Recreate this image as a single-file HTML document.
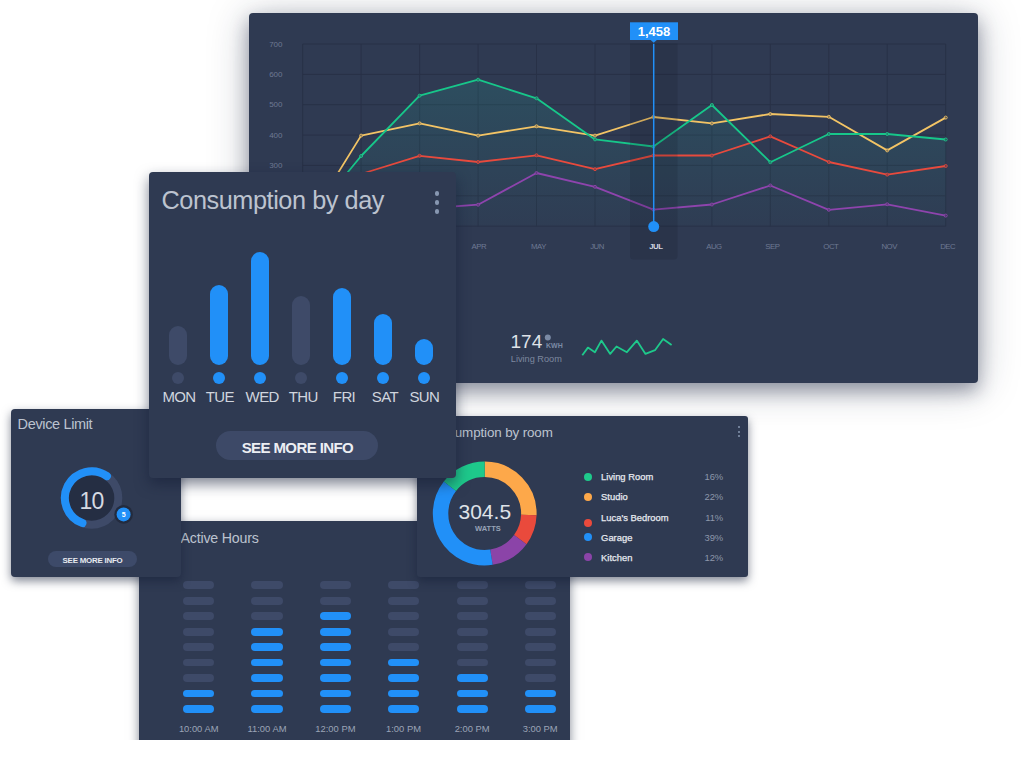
<!DOCTYPE html>
<html><head><meta charset="utf-8"><title>Dashboard</title>
<style>
*{margin:0;padding:0;box-sizing:border-box}
html,body{width:1024px;height:772px;overflow:hidden;background:#fff}
body{position:relative;font-family:"Liberation Sans",Arial,sans-serif;color:#d9dde5}
.card{position:absolute;background:#2f3a52;border-radius:4px;overflow:hidden}
.sh{box-shadow:0 4px 10px rgba(20,30,55,.53)}
#A{left:249px;top:13px;width:729px;height:370px;z-index:1;box-shadow:0 8px 18px rgba(25,35,62,.38),0 4px 42px rgba(25,35,62,.28)}
#Ew{position:absolute;left:0;top:0;width:1024px;height:740.4px;overflow:hidden;z-index:2}
#E{left:139px;top:521px;width:430.5px;height:260px;border-radius:0;box-shadow:0 4px 10px rgba(20,30,55,.53)}
#D{left:416.5px;top:416px;width:331.5px;height:160.5px;z-index:3;border-radius:3px}
#C{left:11px;top:408.5px;width:170px;height:168px;z-index:4}
#B{left:149px;top:172.2px;width:306.7px;height:305.9px;z-index:5;box-shadow:0 6px 14px rgba(20,30,55,.55)!important}
.abs{position:absolute;white-space:nowrap}
svg{position:absolute;left:0;top:0;overflow:visible}
</style></head>
<body>

<!-- Big chart card -->
<div class="card" id="A">
<svg width="729" height="370" viewBox="249 13 729 370">
  <defs>
    <linearGradient id="gf" x1="0" y1="0" x2="0" y2="1">
      <stop offset="0" stop-color="#22b5a2" stop-opacity=".16"/>
      <stop offset="1" stop-color="#22b5a2" stop-opacity=".02"/>
    </linearGradient>
  </defs>
  <!-- grid -->
  <g stroke="#283147" stroke-width="1" fill="none">
    <path d="M302.7 44H945.7M302.7 74.4H945.7M302.7 104.7H945.7M302.7 135.1H945.7M302.7 165.4H945.7M302.7 195.8H945.7M302.7 226.1H945.7"/>
    <path d="M302.7 44V226.1M361.1 44V226.1M419.6 44V226.1M478.1 44V226.1M536.5 44V226.1M595 44V226.1M653.4 44V226.1M711.9 44V226.1M770.3 44V226.1M828.8 44V226.1M887.2 44V226.1M945.7 44V226.1"/>
  </g>
  <!-- green fill -->
  <polygon fill="url(#gf)" points="302.7,227 361.1,156.0 419.6,95.7 478.1,79.7 536.5,98.3 595.0,139.4 653.4,146.5 711.9,105.0 770.3,162.2 828.8,134.0 887.2,134.0 945.7,139.5 945.7,226.1 302.7,226.1"/>
  <g fill="none" stroke-width="1.8" stroke-linejoin="round">
    <polyline stroke="#8e44ad" points="302.7,212.0 361.1,210.0 419.6,209.0 478.1,204.7 536.5,173.0 595.0,186.8 653.4,209.6 711.9,204.5 770.3,185.5 828.8,209.8 887.2,204.3 945.7,215.6"/>
    <polyline stroke="#e84a3d" points="302.7,190.0 361.1,174.0 419.6,155.8 478.1,162.0 536.5,155.3 595.0,169.2 653.4,155.5 711.9,155.5 770.3,136.4 828.8,162.0 887.2,174.6 945.7,166.0"/>
    <polyline stroke="#f3c465" points="302.7,230.0 361.1,135.6 419.6,123.4 478.1,135.6 536.5,126.3 595.0,135.6 653.4,117.0 711.9,123.4 770.3,114.0 828.8,116.8 887.2,150.4 945.7,117.6"/>
    <polyline stroke="#17c78a" points="302.7,227.0 361.1,156.0 419.6,95.7 478.1,79.7 536.5,98.3 595.0,139.4 653.4,146.5 711.9,105.0 770.3,162.2 828.8,134.0 887.2,134.0 945.7,139.5"/>
  </g>
<g stroke-width="0.9" fill="#2f3a52" fill-opacity=".5">
<circle cx="302.7" cy="212.0" r="1.5" stroke="#8e44ad"/>
<circle cx="361.1" cy="210.0" r="1.5" stroke="#8e44ad"/>
<circle cx="419.6" cy="209.0" r="1.5" stroke="#8e44ad"/>
<circle cx="478.1" cy="204.7" r="1.5" stroke="#8e44ad"/>
<circle cx="536.5" cy="173.0" r="1.5" stroke="#8e44ad"/>
<circle cx="595.0" cy="186.8" r="1.5" stroke="#8e44ad"/>
<circle cx="653.4" cy="209.6" r="1.5" stroke="#8e44ad"/>
<circle cx="711.9" cy="204.5" r="1.5" stroke="#8e44ad"/>
<circle cx="770.3" cy="185.5" r="1.5" stroke="#8e44ad"/>
<circle cx="828.8" cy="209.8" r="1.5" stroke="#8e44ad"/>
<circle cx="887.2" cy="204.3" r="1.5" stroke="#8e44ad"/>
<circle cx="945.7" cy="215.6" r="1.5" stroke="#8e44ad"/>
<circle cx="302.7" cy="190.0" r="1.5" stroke="#e84a3d"/>
<circle cx="361.1" cy="174.0" r="1.5" stroke="#e84a3d"/>
<circle cx="419.6" cy="155.8" r="1.5" stroke="#e84a3d"/>
<circle cx="478.1" cy="162.0" r="1.5" stroke="#e84a3d"/>
<circle cx="536.5" cy="155.3" r="1.5" stroke="#e84a3d"/>
<circle cx="595.0" cy="169.2" r="1.5" stroke="#e84a3d"/>
<circle cx="653.4" cy="155.5" r="1.5" stroke="#e84a3d"/>
<circle cx="711.9" cy="155.5" r="1.5" stroke="#e84a3d"/>
<circle cx="770.3" cy="136.4" r="1.5" stroke="#e84a3d"/>
<circle cx="828.8" cy="162.0" r="1.5" stroke="#e84a3d"/>
<circle cx="887.2" cy="174.6" r="1.5" stroke="#e84a3d"/>
<circle cx="945.7" cy="166.0" r="1.5" stroke="#e84a3d"/>
<circle cx="302.7" cy="230.0" r="1.5" stroke="#f3c465"/>
<circle cx="361.1" cy="135.6" r="1.5" stroke="#f3c465"/>
<circle cx="419.6" cy="123.4" r="1.5" stroke="#f3c465"/>
<circle cx="478.1" cy="135.6" r="1.5" stroke="#f3c465"/>
<circle cx="536.5" cy="126.3" r="1.5" stroke="#f3c465"/>
<circle cx="595.0" cy="135.6" r="1.5" stroke="#f3c465"/>
<circle cx="653.4" cy="117.0" r="1.5" stroke="#f3c465"/>
<circle cx="711.9" cy="123.4" r="1.5" stroke="#f3c465"/>
<circle cx="770.3" cy="114.0" r="1.5" stroke="#f3c465"/>
<circle cx="828.8" cy="116.8" r="1.5" stroke="#f3c465"/>
<circle cx="887.2" cy="150.4" r="1.5" stroke="#f3c465"/>
<circle cx="945.7" cy="117.6" r="1.5" stroke="#f3c465"/>
<circle cx="302.7" cy="227.0" r="1.5" stroke="#1ec98b"/>
<circle cx="361.1" cy="156.0" r="1.5" stroke="#1ec98b"/>
<circle cx="419.6" cy="95.7" r="1.5" stroke="#1ec98b"/>
<circle cx="478.1" cy="79.7" r="1.5" stroke="#1ec98b"/>
<circle cx="536.5" cy="98.3" r="1.5" stroke="#1ec98b"/>
<circle cx="595.0" cy="139.4" r="1.5" stroke="#1ec98b"/>
<circle cx="653.4" cy="146.5" r="1.5" stroke="#1ec98b"/>
<circle cx="711.9" cy="105.0" r="1.5" stroke="#1ec98b"/>
<circle cx="770.3" cy="162.2" r="1.5" stroke="#1ec98b"/>
<circle cx="828.8" cy="134.0" r="1.5" stroke="#1ec98b"/>
<circle cx="887.2" cy="134.0" r="1.5" stroke="#1ec98b"/>
<circle cx="945.7" cy="139.5" r="1.5" stroke="#1ec98b"/>
</g>
  <!-- JUL highlight -->
  <path d="M630 43.5 H677.5 V256 a3.5 3.5 0 0 1 -3.5 3.5 H633.5 a3.5 3.5 0 0 1 -3.5 -3.5 Z" fill="#0f1423" fill-opacity=".15"/>
  <!-- y labels -->
  <g font-size="8" fill="#6e7993" text-anchor="end" font-family="Liberation Sans, sans-serif">
    <text x="282.5" y="46.5">700</text>
    <text x="282.5" y="77">600</text>
    <text x="282.5" y="107.3">500</text>
    <text x="282.5" y="137.5">400</text>
    <text x="282.5" y="167.8">300</text>
    <text x="282.5" y="198.2">200</text>
    <text x="282.5" y="228.5">100</text>
  </g>
  <!-- month labels -->
  <g font-size="7.8" letter-spacing="-0.5" fill="#6e7993" text-anchor="middle" font-family="Liberation Sans, sans-serif">
    <text x="304.7" y="249">JAN</text>
    <text x="363.1" y="249">FEB</text>
    <text x="421.6" y="249">MAR</text>
    <text x="478.8" y="249">APR</text>
    <text x="538.5" y="249">MAY</text>
    <text x="597.0" y="249">JUN</text>
    <text x="655.8" y="249" font-weight="bold" fill="#d4d8e0">JUL</text>
    <text x="713.9" y="249">AUG</text>
    <text x="772.3" y="249">SEP</text>
    <text x="830.8" y="249">OCT</text>
    <text x="889.2" y="249">NOV</text>
    <text x="947.7" y="249">DEC</text>
  </g>
  <!-- tooltip -->
  <line x1="653.7" y1="43.8" x2="653.7" y2="226.6" stroke="#2190f8" stroke-width="1.5"/>
  <circle cx="653.7" cy="226.6" r="5.5" fill="#2190f8"/>
  <rect x="630" y="22.3" width="48" height="17.7" fill="#2190f8"/>
  <path d="M650.6 39.9 L653.7 42.8 L656.8 39.9Z" fill="#2190f8"/>
  <text x="654" y="35.6" font-size="13" font-weight="bold" fill="#fff" text-anchor="middle" font-family="Liberation Sans, sans-serif">1,458</text>
  <!-- bottom stat -->
  <text x="510.5" y="347.8" font-size="19" fill="#dfe2e8" font-family="Liberation Sans, sans-serif">174</text>
  <circle cx="547.8" cy="337.6" r="3" fill="#7b8aa5"/>
  <text x="546" y="348.1" font-size="7" font-weight="bold" fill="#7b8aa5" font-family="Liberation Sans, sans-serif">KWH</text>
  <text x="510.8" y="362.2" font-size="9.2" fill="#7d889f" font-family="Liberation Sans, sans-serif">Living Room</text>
  <polyline fill="none" stroke="#1ec98b" stroke-width="1.8" stroke-linejoin="round" points="582.3,355.2 587.9,347.6 594.9,352.2 601.4,340.6 610.2,353.9 616.5,346.5 626.9,352.2 636.8,340.6 645.5,353.9 655,350.2 663.1,339 671.6,345.1"/>
</svg>
</div>

<!-- Active hours -->
<div id="Ew"><div class="card" id="E">
<div class="abs" style="left:41.6px;top:9.1px;font-size:14.2px;letter-spacing:-0.2px;line-height:17px;color:#bcc3cf">Active Hours</div>
<div class="abs" style="left:44.1px;top:60.30px;width:31.2px;height:7.8px;border-radius:4px;background:#3e4a68"></div>
<div class="abs" style="left:44.1px;top:75.77px;width:31.2px;height:7.8px;border-radius:4px;background:#3e4a68"></div>
<div class="abs" style="left:44.1px;top:91.24px;width:31.2px;height:7.8px;border-radius:4px;background:#3e4a68"></div>
<div class="abs" style="left:44.1px;top:106.71px;width:31.2px;height:7.8px;border-radius:4px;background:#3e4a68"></div>
<div class="abs" style="left:44.1px;top:122.18px;width:31.2px;height:7.8px;border-radius:4px;background:#3e4a68"></div>
<div class="abs" style="left:44.1px;top:137.65px;width:31.2px;height:7.8px;border-radius:4px;background:#3e4a68"></div>
<div class="abs" style="left:44.1px;top:153.12px;width:31.2px;height:7.8px;border-radius:4px;background:#3e4a68"></div>
<div class="abs" style="left:44.1px;top:168.59px;width:31.2px;height:7.8px;border-radius:4px;background:#2190f8"></div>
<div class="abs" style="left:44.1px;top:184.06px;width:31.2px;height:7.8px;border-radius:4px;background:#2190f8"></div>
<div class="abs" style="left:29.700000000000003px;width:60px;text-align:center;top:201.8px;font-size:9.4px;line-height:11px;color:#9ba4b6">10:00 AM</div>
<div class="abs" style="left:112.4px;top:60.30px;width:31.2px;height:7.8px;border-radius:4px;background:#3e4a68"></div>
<div class="abs" style="left:112.4px;top:75.77px;width:31.2px;height:7.8px;border-radius:4px;background:#3e4a68"></div>
<div class="abs" style="left:112.4px;top:91.24px;width:31.2px;height:7.8px;border-radius:4px;background:#3e4a68"></div>
<div class="abs" style="left:112.4px;top:106.71px;width:31.2px;height:7.8px;border-radius:4px;background:#2190f8"></div>
<div class="abs" style="left:112.4px;top:122.18px;width:31.2px;height:7.8px;border-radius:4px;background:#2190f8"></div>
<div class="abs" style="left:112.4px;top:137.65px;width:31.2px;height:7.8px;border-radius:4px;background:#2190f8"></div>
<div class="abs" style="left:112.4px;top:153.12px;width:31.2px;height:7.8px;border-radius:4px;background:#2190f8"></div>
<div class="abs" style="left:112.4px;top:168.59px;width:31.2px;height:7.8px;border-radius:4px;background:#2190f8"></div>
<div class="abs" style="left:112.4px;top:184.06px;width:31.2px;height:7.8px;border-radius:4px;background:#2190f8"></div>
<div class="abs" style="left:98.0px;width:60px;text-align:center;top:201.8px;font-size:9.4px;line-height:11px;color:#9ba4b6">11:00 AM</div>
<div class="abs" style="left:180.8px;top:60.30px;width:31.2px;height:7.8px;border-radius:4px;background:#3e4a68"></div>
<div class="abs" style="left:180.8px;top:75.77px;width:31.2px;height:7.8px;border-radius:4px;background:#3e4a68"></div>
<div class="abs" style="left:180.8px;top:91.24px;width:31.2px;height:7.8px;border-radius:4px;background:#2190f8"></div>
<div class="abs" style="left:180.8px;top:106.71px;width:31.2px;height:7.8px;border-radius:4px;background:#2190f8"></div>
<div class="abs" style="left:180.8px;top:122.18px;width:31.2px;height:7.8px;border-radius:4px;background:#2190f8"></div>
<div class="abs" style="left:180.8px;top:137.65px;width:31.2px;height:7.8px;border-radius:4px;background:#2190f8"></div>
<div class="abs" style="left:180.8px;top:153.12px;width:31.2px;height:7.8px;border-radius:4px;background:#2190f8"></div>
<div class="abs" style="left:180.8px;top:168.59px;width:31.2px;height:7.8px;border-radius:4px;background:#2190f8"></div>
<div class="abs" style="left:180.8px;top:184.06px;width:31.2px;height:7.8px;border-radius:4px;background:#2190f8"></div>
<div class="abs" style="left:166.4px;width:60px;text-align:center;top:201.8px;font-size:9.4px;line-height:11px;color:#9ba4b6">12:00 PM</div>
<div class="abs" style="left:248.9px;top:60.30px;width:31.2px;height:7.8px;border-radius:4px;background:#3e4a68"></div>
<div class="abs" style="left:248.9px;top:75.77px;width:31.2px;height:7.8px;border-radius:4px;background:#3e4a68"></div>
<div class="abs" style="left:248.9px;top:91.24px;width:31.2px;height:7.8px;border-radius:4px;background:#3e4a68"></div>
<div class="abs" style="left:248.9px;top:106.71px;width:31.2px;height:7.8px;border-radius:4px;background:#3e4a68"></div>
<div class="abs" style="left:248.9px;top:122.18px;width:31.2px;height:7.8px;border-radius:4px;background:#3e4a68"></div>
<div class="abs" style="left:248.9px;top:137.65px;width:31.2px;height:7.8px;border-radius:4px;background:#2190f8"></div>
<div class="abs" style="left:248.9px;top:153.12px;width:31.2px;height:7.8px;border-radius:4px;background:#2190f8"></div>
<div class="abs" style="left:248.9px;top:168.59px;width:31.2px;height:7.8px;border-radius:4px;background:#2190f8"></div>
<div class="abs" style="left:248.9px;top:184.06px;width:31.2px;height:7.8px;border-radius:4px;background:#2190f8"></div>
<div class="abs" style="left:234.5px;width:60px;text-align:center;top:201.8px;font-size:9.4px;line-height:11px;color:#9ba4b6">1:00 PM</div>
<div class="abs" style="left:317.5px;top:60.30px;width:31.2px;height:7.8px;border-radius:4px;background:#3e4a68"></div>
<div class="abs" style="left:317.5px;top:75.77px;width:31.2px;height:7.8px;border-radius:4px;background:#3e4a68"></div>
<div class="abs" style="left:317.5px;top:91.24px;width:31.2px;height:7.8px;border-radius:4px;background:#3e4a68"></div>
<div class="abs" style="left:317.5px;top:106.71px;width:31.2px;height:7.8px;border-radius:4px;background:#3e4a68"></div>
<div class="abs" style="left:317.5px;top:122.18px;width:31.2px;height:7.8px;border-radius:4px;background:#3e4a68"></div>
<div class="abs" style="left:317.5px;top:137.65px;width:31.2px;height:7.8px;border-radius:4px;background:#3e4a68"></div>
<div class="abs" style="left:317.5px;top:153.12px;width:31.2px;height:7.8px;border-radius:4px;background:#2190f8"></div>
<div class="abs" style="left:317.5px;top:168.59px;width:31.2px;height:7.8px;border-radius:4px;background:#2190f8"></div>
<div class="abs" style="left:317.5px;top:184.06px;width:31.2px;height:7.8px;border-radius:4px;background:#2190f8"></div>
<div class="abs" style="left:303.1px;width:60px;text-align:center;top:201.8px;font-size:9.4px;line-height:11px;color:#9ba4b6">2:00 PM</div>
<div class="abs" style="left:385.6px;top:60.30px;width:31.2px;height:7.8px;border-radius:4px;background:#3e4a68"></div>
<div class="abs" style="left:385.6px;top:75.77px;width:31.2px;height:7.8px;border-radius:4px;background:#3e4a68"></div>
<div class="abs" style="left:385.6px;top:91.24px;width:31.2px;height:7.8px;border-radius:4px;background:#3e4a68"></div>
<div class="abs" style="left:385.6px;top:106.71px;width:31.2px;height:7.8px;border-radius:4px;background:#3e4a68"></div>
<div class="abs" style="left:385.6px;top:122.18px;width:31.2px;height:7.8px;border-radius:4px;background:#3e4a68"></div>
<div class="abs" style="left:385.6px;top:137.65px;width:31.2px;height:7.8px;border-radius:4px;background:#3e4a68"></div>
<div class="abs" style="left:385.6px;top:153.12px;width:31.2px;height:7.8px;border-radius:4px;background:#3e4a68"></div>
<div class="abs" style="left:385.6px;top:168.59px;width:31.2px;height:7.8px;border-radius:4px;background:#2190f8"></div>
<div class="abs" style="left:385.6px;top:184.06px;width:31.2px;height:7.8px;border-radius:4px;background:#2190f8"></div>
<div class="abs" style="left:371.20000000000005px;width:60px;text-align:center;top:201.8px;font-size:9.4px;line-height:11px;color:#9ba4b6">3:00 PM</div>
</div></div>

<!-- Room -->
<div class="card sh" id="D">
<div class="abs" style="left:7.5px;top:9px;font-size:13.4px;letter-spacing:-0.12px;line-height:16px;color:#bcc3cf">Consumption by room</div>
<div class="abs" style="left:321.1px;top:9.8px;width:2.4px;height:2.4px;border-radius:50%;background:#8797b1"></div>
<div class="abs" style="left:321.1px;top:14.5px;width:2.4px;height:2.4px;border-radius:50%;background:#8797b1"></div>
<div class="abs" style="left:321.1px;top:19.1px;width:2.4px;height:2.4px;border-radius:50%;background:#8797b1"></div>
<svg width="332" height="161" viewBox="0 0 332 161"><path d="M67.70 53.35 A44.15 44.15 0 0 1 111.82 99.04" fill="none" stroke="#fda84a" stroke-width="15.5"/><path d="M111.82 99.04 A44.15 44.15 0 0 1 103.28 123.64" fill="none" stroke="#ea4a3c" stroke-width="15.5"/><path d="M103.28 123.64 A44.15 44.15 0 0 1 74.45 141.13" fill="none" stroke="#8b44a8" stroke-width="15.5"/><path d="M74.45 141.13 A44.15 44.15 0 0 1 32.91 70.32" fill="none" stroke="#2190f8" stroke-width="15.5"/><path d="M32.91 70.32 A44.15 44.15 0 0 1 67.70 53.35" fill="none" stroke="#1ec98b" stroke-width="15.5"/><text x="67.8" y="102.7" font-size="21" fill="#dfe2e8" text-anchor="middle" font-family="Liberation Sans, sans-serif">304.5</text><text x="70.9" y="114.7" font-size="7.5" font-weight="bold" fill="#98a3b7" text-anchor="middle" font-family="Liberation Sans, sans-serif">WATTS</text></svg>
<div class="abs" style="left:167.9px;top:56.6px;width:8px;height:8px;border-radius:50%;background:#1ec98b"></div>
<div class="abs" style="left:184.6px;top:55.3px;font-size:9.4px;line-height:12px;color:#e6e9ef;-webkit-text-stroke:0.25px #e6e9ef">Living Room</div>
<div class="abs" style="right:24.80000000000001px;top:55.3px;font-size:9.4px;line-height:12px;color:#8d97ab">16%</div>
<div class="abs" style="left:167.9px;top:76.9px;width:8px;height:8px;border-radius:50%;background:#fda84a"></div>
<div class="abs" style="left:184.6px;top:75.4px;font-size:9.4px;line-height:12px;color:#e6e9ef;-webkit-text-stroke:0.25px #e6e9ef">Studio</div>
<div class="abs" style="right:24.80000000000001px;top:75.4px;font-size:9.4px;line-height:12px;color:#8d97ab">22%</div>
<div class="abs" style="left:167.9px;top:102.8px;width:8px;height:8px;border-radius:50%;background:#ea4a3c"></div>
<div class="abs" style="left:184.6px;top:95.5px;font-size:9.4px;line-height:12px;color:#e6e9ef;-webkit-text-stroke:0.25px #e6e9ef">Luca's Bedroom</div>
<div class="abs" style="right:24.80000000000001px;top:95.5px;font-size:9.4px;line-height:12px;color:#8d97ab">11%</div>
<div class="abs" style="left:167.9px;top:116.8px;width:8px;height:8px;border-radius:50%;background:#2190f8"></div>
<div class="abs" style="left:184.6px;top:115.9px;font-size:9.4px;line-height:12px;color:#e6e9ef;-webkit-text-stroke:0.25px #e6e9ef">Garage</div>
<div class="abs" style="right:24.80000000000001px;top:115.9px;font-size:9.4px;line-height:12px;color:#8d97ab">39%</div>
<div class="abs" style="left:167.9px;top:137.1px;width:8px;height:8px;border-radius:50%;background:#8b44a8"></div>
<div class="abs" style="left:184.6px;top:135.6px;font-size:9.4px;line-height:12px;color:#e6e9ef;-webkit-text-stroke:0.25px #e6e9ef">Kitchen</div>
<div class="abs" style="right:24.80000000000001px;top:135.6px;font-size:9.4px;line-height:12px;color:#8d97ab">12%</div>
</div>

<!-- Device limit -->
<div class="card sh" id="C">
<div class="abs" style="left:6.6px;top:7.2px;font-size:14.5px;letter-spacing:-0.36px;line-height:16px;color:#bcc3cf">Device Limit</div>
<svg width="170" height="168" viewBox="0 0 170 168">
  <circle cx="80.6" cy="89" r="26.7" fill="#252e43" stroke="#3e4a68" stroke-width="8"/>
  <path id="arc" d="M71.47 114.09 A26.7 26.7 0 1 1 95.91 67.13" fill="none" stroke="#2190f8" stroke-width="8" stroke-linecap="round"/>
  <text x="80.6" y="99.9" font-size="23" letter-spacing="-0.6" fill="#d6dae2" text-anchor="middle" font-family="Liberation Sans, sans-serif">10</text>
  <circle cx="112.6" cy="105.4" r="9.3" fill="#232b3e"/>
  <circle cx="112.6" cy="105.4" r="7" fill="#2190f8"/>
  <text x="112.6" y="108" font-size="7" font-weight="bold" fill="#fff" text-anchor="middle" font-family="Liberation Sans, sans-serif">5</text>
</svg>
<div class="abs" style="left:37.2px;top:142.5px;width:88.6px;height:15.6px;border-radius:8px;background:#3d4a69;color:#e6e9ef;font-weight:bold;font-size:7.9px;letter-spacing:-0.22px;line-height:19px;text-align:center;overflow:hidden">SEE MORE INFO</div>
</div>

<!-- Consumption by day -->
<div class="card sh" id="B">
<div class="abs" style="left:12.5px;top:13.2px;font-size:25.3px;letter-spacing:-0.45px;line-height:30px;color:#bcc3cf">Consumption by day</div>
<div class="abs" style="left:285.75px;top:19.25px;width:4.7px;height:4.7px;border-radius:50%;background:#8797b1"></div>
<div class="abs" style="left:285.75px;top:27.849999999999998px;width:4.7px;height:4.7px;border-radius:50%;background:#8797b1"></div>
<div class="abs" style="left:285.75px;top:36.85px;width:4.7px;height:4.7px;border-radius:50%;background:#8797b1"></div>
<div class="abs" style="left:20.1px;top:153.6px;width:18px;height:39.400000000000006px;border-radius:9px;background:#3e4a68"></div>
<div class="abs" style="left:23.1px;top:199.7px;width:12px;height:12px;border-radius:50%;background:#3e4a68"></div>
<div class="abs" style="left:5.0px;width:50px;text-align:center;top:215.6px;font-size:15px;letter-spacing:-0.6px;line-height:17px;color:#d0d5de">MON</div>
<div class="abs" style="left:61.099999999999994px;top:112.5px;width:18px;height:80.5px;border-radius:9px;background:#2190f8"></div>
<div class="abs" style="left:64.1px;top:199.7px;width:12px;height:12px;border-radius:50%;background:#2190f8"></div>
<div class="abs" style="left:45.8px;width:50px;text-align:center;top:215.6px;font-size:15px;letter-spacing:-0.6px;line-height:17px;color:#d0d5de">TUE</div>
<div class="abs" style="left:102px;top:80.3px;width:18px;height:112.7px;border-radius:9px;background:#2190f8"></div>
<div class="abs" style="left:105px;top:199.7px;width:12px;height:12px;border-radius:50%;background:#2190f8"></div>
<div class="abs" style="left:88.2px;width:50px;text-align:center;top:215.6px;font-size:15px;letter-spacing:-0.6px;line-height:17px;color:#d0d5de">WED</div>
<div class="abs" style="left:143px;top:124.3px;width:18px;height:68.7px;border-radius:9px;background:#3e4a68"></div>
<div class="abs" style="left:146px;top:199.7px;width:12px;height:12px;border-radius:50%;background:#3e4a68"></div>
<div class="abs" style="left:129.2px;width:50px;text-align:center;top:215.6px;font-size:15px;letter-spacing:-0.6px;line-height:17px;color:#d0d5de">THU</div>
<div class="abs" style="left:183.8px;top:115.5px;width:18px;height:77.5px;border-radius:9px;background:#2190f8"></div>
<div class="abs" style="left:186.8px;top:199.7px;width:12px;height:12px;border-radius:50%;background:#2190f8"></div>
<div class="abs" style="left:170.0px;width:50px;text-align:center;top:215.6px;font-size:15px;letter-spacing:-0.6px;line-height:17px;color:#d0d5de">FRI</div>
<div class="abs" style="left:224.8px;top:141.8px;width:18px;height:51.19999999999999px;border-radius:9px;background:#2190f8"></div>
<div class="abs" style="left:227.8px;top:199.7px;width:12px;height:12px;border-radius:50%;background:#2190f8"></div>
<div class="abs" style="left:211.0px;width:50px;text-align:center;top:215.6px;font-size:15px;letter-spacing:-0.6px;line-height:17px;color:#d0d5de">SAT</div>
<div class="abs" style="left:265.7px;top:166.7px;width:18px;height:26.30000000000001px;border-radius:9px;background:#2190f8"></div>
<div class="abs" style="left:268.7px;top:199.7px;width:12px;height:12px;border-radius:50%;background:#2190f8"></div>
<div class="abs" style="left:250.4px;width:50px;text-align:center;top:215.6px;font-size:15px;letter-spacing:-0.6px;line-height:17px;color:#d0d5de">SUN</div>
<div class="abs" style="left:67.4px;top:258.7px;width:162px;height:29.2px;border-radius:15px;background:#3d4967;color:#eceef3;font-weight:bold;font-size:15px;letter-spacing:-0.6px;line-height:34.4px;text-align:center;overflow:hidden">SEE MORE INFO</div>
</div>

</body></html>
